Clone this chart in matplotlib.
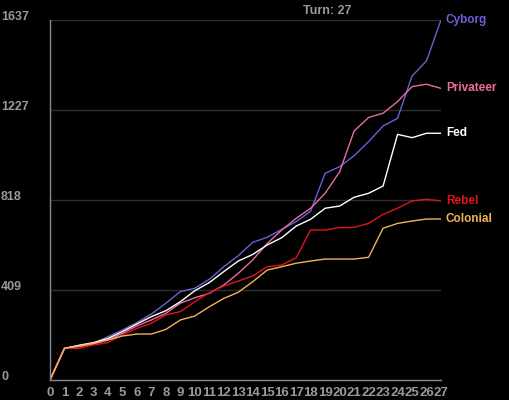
import numpy as np
import matplotlib.pyplot as plt
import matplotlib.transforms as mtransforms

plt.rcParams['font.family'] = ['Liberation Sans', 'DejaVu Sans']

turns = list(range(28))
yticks = [0, 409, 818, 1227, 1637]

cyborg = [0, 144, 155, 167, 197, 227, 261, 300, 349, 402, 417, 458, 515, 565,
          626, 649, 685, 720, 768, 940, 970, 1020, 1084, 1155, 1190, 1382, 1451, 1637]
privateer = [0, 144, 152, 164, 182, 212, 246, 273, 303, 349, 374, 394, 432, 485,
             546, 621, 682, 735, 781, 849, 947, 1132, 1194, 1213, 1266, 1334, 1345, 1326]
fed = [0, 144, 158, 170, 189, 220, 255, 288, 315, 356, 406, 443, 493, 541,
       571, 614, 647, 700, 731, 781, 791, 831, 849, 882, 1117, 1102, 1122, 1122]
rebel = [0, 144, 144, 159, 170, 205, 235, 258, 296, 311, 356, 397, 427, 450,
         473, 515, 523, 556, 682, 682, 693, 694, 712, 753, 781, 814, 822, 814]
colonial = [0, 144, 155, 167, 182, 200, 209, 209, 230, 273, 291, 333, 371, 399,
            447, 500, 515, 531, 541, 550, 550, 550, 558, 690, 712, 723, 732, 732]

names = ['Cyborg', 'Privateer', 'Fed', 'Rebel', 'Colonial']
series = [cyborg, privateer, fed, rebel, colonial]
colors = ['#6a60d8', '#e86e9c', '#ffffff', '#e0141c', '#f0b456']

fig = plt.figure(figsize=(5.1, 4.0), dpi=100, facecolor='black')
ax = fig.add_axes([50/510, 20/400, 391/510, 360/400], facecolor='black')

for name, vals, c in zip(names, series, colors):
    ax.plot(turns, vals, color=c, lw=1.0)
    ax.annotate(name, (turns[-1], vals[-1]), xytext=(5, 0), textcoords='offset pixels',
                color=c, fontsize=8.5, fontweight='bold', va='center', ha='left',
                annotation_clip=False)

ax.set_xlim(0, 27)
ax.set_ylim(0, 1637)
ax.set_xticks(turns)
ax.set_xticklabels([str(t) for t in turns], color='#9a9a9a', fontsize=9.5, fontweight='bold')
ax.tick_params(axis='x', length=0, pad=5)
ax.set_yticks([])

for v in yticks[1:]:
    ax.axhline(v, color='#2e2e2e', lw=1.0, zorder=0)

trans = mtransforms.blended_transform_factory(fig.transFigure, ax.transData)
for v in yticks:
    ax.text(1/510, v, str(v), transform=trans, ha='left', va='baseline',
            color='#9a9a9a', fontsize=9, fontweight='bold', clip_on=False)

for s in ['top', 'right']:
    ax.spines[s].set_visible(False)
for s in ['left', 'bottom']:
    ax.spines[s].set_color('#8a8a8a')
    ax.spines[s].set_linewidth(1.0)

fig.text(327/510, 1 - 11/400, 'Turn: 27', ha='center', va='center',
         color='#9a9a9a', fontsize=9, fontweight='bold')

fig.savefig('out.png', dpi=100, facecolor='black')
